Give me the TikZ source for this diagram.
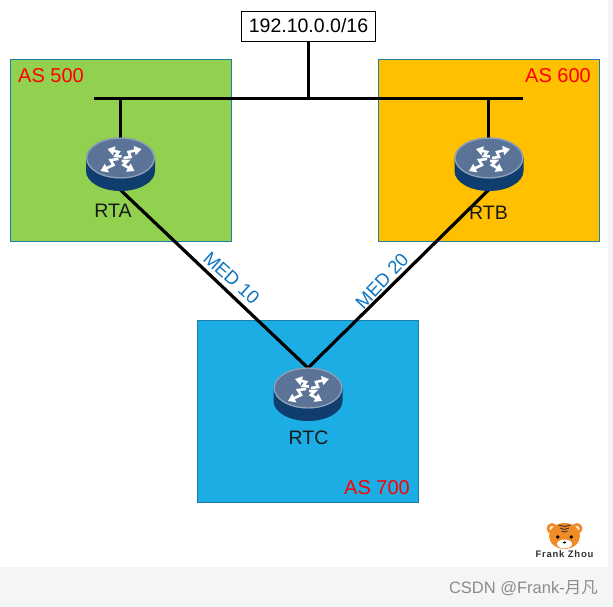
\documentclass[tikz,border=0pt]{standalone}
\usepackage{fontspec}
\setmainfont{Liberation Sans}
\newfontfamily\cjkfont{Noto Sans CJK SC}
\usetikzlibrary{arrows.meta}
\definecolor{asgreen}{HTML}{92D050}
\definecolor{asorange}{HTML}{FFC000}
\definecolor{asblue}{HTML}{1CADE4}
\definecolor{asedge}{HTML}{1B7FA8}
\definecolor{medblue}{HTML}{0F75C0}
\definecolor{pagegray}{HTML}{F4F5F7}
\definecolor{rtop}{HTML}{5B7396}
\definecolor{rrim}{HTML}{8FA5BE}
\definecolor{rside}{HTML}{0F3D6E}
\definecolor{tiger}{HTML}{F08C28}
\tikzset{
  asbox/.style={draw=asedge,line width=0.7pt,minimum width=221pt,minimum height=181.5pt,inner sep=0pt,anchor=north west},
  aslabel/.style={text=red,font=\fontsize{20}{22}\selectfont,inner sep=0pt},
  link/.style={draw=black,line width=3.2pt},
  rlabel/.style={font=\fontsize{19.5}{22}\selectfont,inner sep=0pt,text=black!90},
  medlabel/.style={text=medblue,font=\fontsize{18.7}{22}\selectfont,inner sep=0pt},
  rarrow/.style={draw=white,line width=2.6pt,line join=miter,-{Triangle[length=7pt,width=9pt]}},
}
\newcommand{\routerdraw}[1]{%
  \begin{scope}[shift={(#1)}]
    \fill[rside] (-34.5,0) -- (-34.5,13) arc[start angle=180,end angle=0,x radius=34.5,y radius=20] -- (34.5,0) -- cycle;
    \fill[rtop] (0,0) ellipse[x radius=34.5,y radius=20.5];
    \draw[rrim,line width=1.2pt] (0,0) ellipse[x radius=33.8,y radius=19.9];
    \draw[rarrow] (3,0) -- (10,-1) -- (8,-6) -- (21,-9);
    \draw[rarrow] (1,-1.5) -- (-5,-2) -- (-2,-6) -- (-13,-9);
    \draw[rarrow] (-2,1) -- (-10,2) -- (-7,7) -- (-20,13);
    \draw[rarrow] (1,3) -- (7,3) -- (3,7) -- (14,13);
  \end{scope}}
\begin{document}
\begin{tikzpicture}[x=1pt,y=-1pt]
\useasboundingbox (0,0) rectangle (613,607);
\fill[pagegray] (0,0) rectangle (613,607);
\fill[white] (0,0) rectangle (608,567);
\node[asbox,fill=asgreen] (as500) at (10,59.3) {};
\node[asbox,fill=asorange] (as600) at (378,59.3) {};
\node[asbox,fill=asblue] (as700) at (197,320.3) {};
\node[draw=black,fill=white,line width=0.8pt,minimum width=134pt,minimum height=30pt,inner sep=0pt,font=\fontsize{19.5}{22}\selectfont] (net) at (308.5,26) {192.10.0.0/16};
\coordinate (busl) at (94,98.5);
\coordinate (busr) at (523,98.5);
\coordinate (busm) at (308.5,98.5);
\coordinate (busa) at (120.5,98.5);
\coordinate (busb) at (488.5,98.5);
\coordinate (rta) at (120.5,158);
\coordinate (rtb) at (489,158);
\coordinate (rtc) at (308,388);
\coordinate (rtatop) at (120.5,145);
\coordinate (rtbtop) at (488.5,145);
\coordinate (rtabot) at (120.5,190);
\coordinate (rtbbot) at (488.5,190);
\coordinate (rtctop) at (308,368);
\draw[link] (busl) -- (busr);
\draw[link] (net.south) -- (busm);
\draw[link] (busa) -- (rtatop);
\draw[link] (busb) -- (rtbtop);
\draw[link,line join=miter] (rtabot) -- (rtctop) -- (rtbbot);
\routerdraw{rta}
\routerdraw{rtb}
\routerdraw{rtc}
\node[rlabel] (la) at (113,210.5) {RTA};
\node[rlabel] (lb) at (488.5,212.5) {RTB};
\node[rlabel] (lc) at (308.5,437.5) {RTC};
\node[aslabel,anchor=west] (t500) at (18,75.5) {AS 500};
\node[aslabel,anchor=east] (t600) at (591,75.5) {AS 600};
\node[aslabel,anchor=east] (t700) at (410,487.5) {AS 700};
\node[medlabel,rotate=-42] (m10) at (231.5,278) {MED 10};
\node[medlabel,rotate=47] (m20) at (382,281) {MED 20};
% logo
\begin{scope}[shift={(564.5,537)}]
  \fill[tiger] (-12.5,-8.5) circle[radius=5.5];
  \fill[tiger] (12.5,-8.5) circle[radius=5.5];
  \fill[white!85!tiger] (-12.5,-8.5) circle[radius=2.5];
  \fill[white!85!tiger] (12.5,-8.5) circle[radius=2.5];
  \fill[tiger] (0,-1) ellipse[x radius=15.5,y radius=13];
  \fill[white] (0,7) ellipse[x radius=7.5,y radius=4.5];
  \fill[black] (-6.8,0) circle[radius=1.9];
  \fill[black] (6.8,0) circle[radius=1.9];
  \fill[black] (0,5.5) ellipse[x radius=1.8,y radius=1.1];
  \draw[black!80,line width=0.9pt] (-6,-12) -- (0,-10.5) -- (6,-12) (-4.5,-9) -- (0,-7.5) -- (4.5,-9) (-3,-6) -- (0,-5) -- (3,-6);
\end{scope}
\node[inner sep=0pt,text=black!80,font=\fontsize{9.5}{11}\selectfont\bfseries] (logo) at (564.5,554) {\addfontfeature{LetterSpace=8}Frank Zhou};
\node[inner sep=0pt,text=black!45,font=\fontsize{16.5}{18}\selectfont,anchor=east] (csdn) at (598,588.5) {CSDN @Frank-{\cjkfont 月凡}};
\end{tikzpicture}
\end{document}
